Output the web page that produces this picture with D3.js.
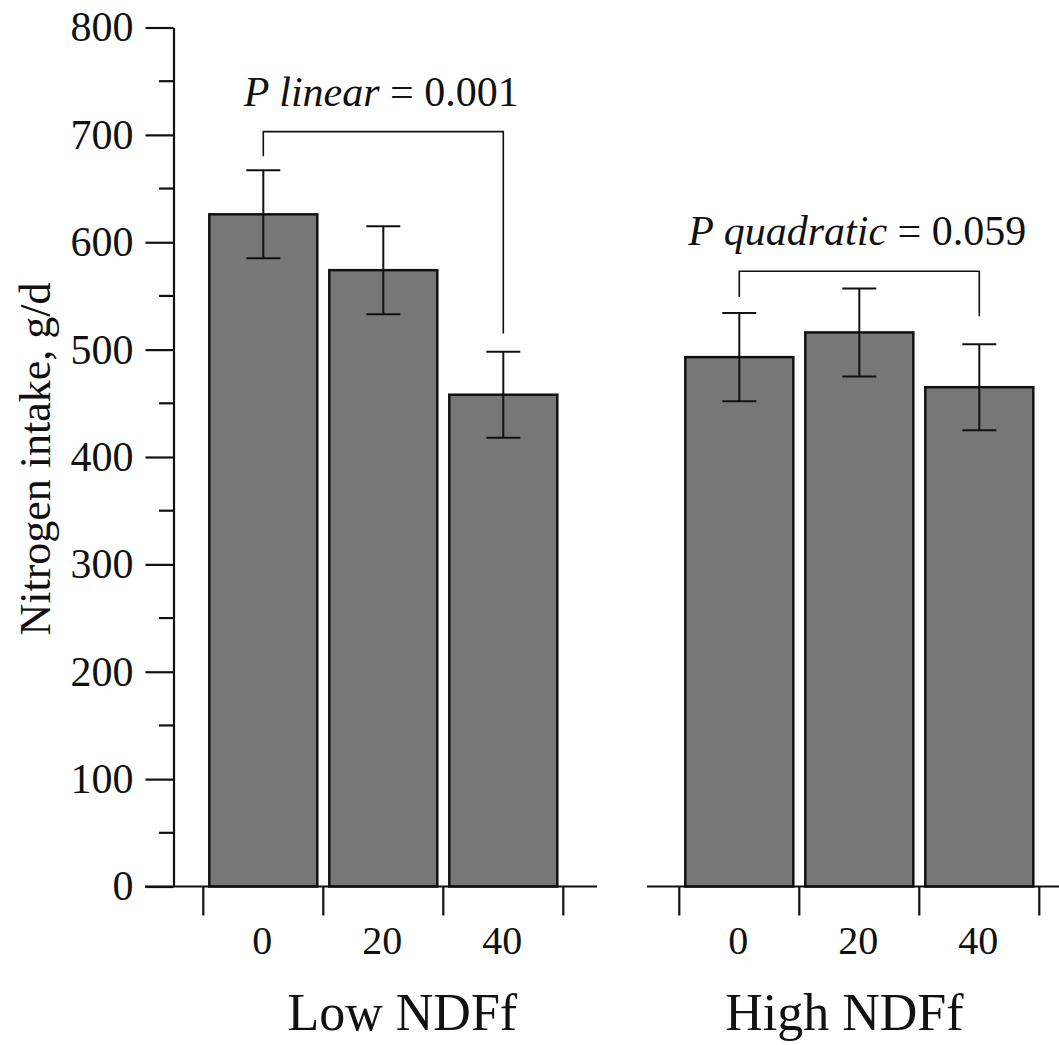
<!DOCTYPE html>
<html>
<head>
<meta charset="utf-8">
<script src="https://cdn.jsdelivr.net/npm/d3@7"></script>
<style>
  body { margin: 0; background: #fff; }
  text { font-family: "Liberation Serif", "Times New Roman", serif; fill: #111; }
</style>
</head>
<body>
<div id="chart"></div>
<script>
var categories = ["0", "20", "40"];
var groups = ["Low NDFf", "High NDFf"];
var lowMeans = [626, 574, 458];
var lowErr = [41, 41, 40];
var highMeans = [493, 516, 465];
var highErr = [41, 41, 40];
var yMajor = [0, 100, 200, 300, 400, 500, 600, 700, 800];
var yMinor = [50, 150, 250, 350, 450, 550, 650, 750];
// bracket: top value, left leg end, right leg end (data units)
var brackets = [
    { label: "P linear", p: "0.001", top: 703, ends: [680, 515] },
    { label: "P quadratic", p: "0.059", top: 573, ends: [549, 531] }
];

(function () {
    var width = 1059,
        height = 1045;

    var svg = d3.select("#chart")
        .append("svg")
        .attr("width", width)
        .attr("height", height);

    var y = d3.scaleLinear().domain([0, 800]).range([886.5, 27.5]);

    var x = d3.scaleBand()
        .domain(categories)
        .range([0, 360])
        .paddingInner(0.1)
        .paddingOuter(0.05);

    var panelX = [203.3, 679.3];
    var axisLines = [[145, 597], [647, 1059]];
    var groupLabelX = [199, 165];
    var series = [
        { means: lowMeans, err: lowErr },
        { means: highMeans, err: highErr }
    ];

    // y axis
    var yAxis = svg.append("g")
        .attr("transform", "translate(173.5,0)")
        .call(d3.axisLeft(y).tickValues(yMajor).tickSize(28).tickPadding(12).tickSizeOuter(0));
    yAxis.select(".domain").attr("stroke", "#111").attr("stroke-width", 2.2);
    yAxis.selectAll(".tick line").attr("stroke", "#111").attr("stroke-width", 2.2);
    yAxis.selectAll(".tick text")
        .style("font-family", "Liberation Serif")
        .style("font-size", "42px")
        .attr("fill", "#111");

    svg.append("g").selectAll("line")
        .data(yMinor)
        .enter().append("line")
        .attr("x1", 159).attr("x2", 173.5)
        .attr("y1", function (d) { return y(d); })
        .attr("y2", function (d) { return y(d); })
        .attr("stroke", "#111").attr("stroke-width", 2.2);

    svg.append("text")
        .attr("transform", "translate(50," + 459 + ") rotate(-90)")
        .attr("text-anchor", "middle")
        .style("font-size", "44px")
        .text("Nitrogen intake, g/d");

    series.forEach(function (s, gi) {
        var g = svg.append("g").attr("transform", "translate(" + panelX[gi] + ",0)");
        var rows = categories.map(function (c, i) {
            return { cat: c, mean: s.means[i], err: s.err[i] };
        });

        g.selectAll(".bar")
            .data(rows)
            .enter().append("rect")
            .attr("class", "bar")
            .attr("x", function (d) { return x(d.cat); })
            .attr("width", x.bandwidth())
            .attr("y", function (d) { return y(d.mean); })
            .attr("height", function (d) { return y(0) - y(d.mean); })
            .attr("fill", "#777777")
            .attr("stroke", "#111")
            .attr("stroke-width", 2.5);

        var eb = g.selectAll(".err")
            .data(rows)
            .enter().append("g")
            .attr("class", "err")
            .attr("stroke", "#111")
            .attr("stroke-width", 2);
        eb.append("line")
            .attr("x1", function (d) { return x(d.cat) + x.bandwidth() / 2; })
            .attr("x2", function (d) { return x(d.cat) + x.bandwidth() / 2; })
            .attr("y1", function (d) { return y(d.mean + d.err); })
            .attr("y2", function (d) { return y(d.mean - d.err); });
        [1, -1].forEach(function (sign) {
            eb.append("line")
                .attr("x1", function (d) { return x(d.cat) + x.bandwidth() / 2 - 17; })
                .attr("x2", function (d) { return x(d.cat) + x.bandwidth() / 2 + 17; })
                .attr("y1", function (d) { return y(d.mean + sign * d.err); })
                .attr("y2", function (d) { return y(d.mean + sign * d.err); });
        });

        // x axis line + boundary ticks
        svg.append("line")
            .attr("x1", axisLines[gi][0]).attr("x2", axisLines[gi][1])
            .attr("y1", y(0)).attr("y2", y(0))
            .attr("stroke", "#111").attr("stroke-width", 2.2);
        g.selectAll(".xtick")
            .data(d3.range(categories.length + 1))
            .enter().append("line")
            .attr("x1", function (i) { return i * x.step(); })
            .attr("x2", function (i) { return i * x.step(); })
            .attr("y1", y(0)).attr("y2", y(0) + 29)
            .attr("stroke", "#111").attr("stroke-width", 2.2);

        g.selectAll(".xlab")
            .data(categories)
            .enter().append("text")
            .attr("x", function (d) { return x(d) + x.bandwidth() / 2 - 1; })
            .attr("y", 954)
            .attr("text-anchor", "middle")
            .style("font-size", "40px")
            .text(function (d) { return d; });

        g.append("text")
            .attr("x", groupLabelX[gi])
            .attr("y", 1030)
            .attr("text-anchor", "middle")
            .style("font-size", "52px")
            .text(groups[gi]);

        // bracket
        var b = brackets[gi];
        var xl = x(categories[0]) + x.bandwidth() / 2,
            xr = x(categories[2]) + x.bandwidth() / 2;
        g.append("path")
            .attr("d", "M" + xl + "," + y(b.ends[0]) + "V" + y(b.top) + "H" + xr + "V" + y(b.ends[1]))
            .attr("fill", "none")
            .attr("stroke", "#111")
            .attr("stroke-width", 1.6);
        var t = g.append("text")
            .attr("x", (xl + xr) / 2 - 2)
            .attr("y", y(b.top) - 26)
            .attr("text-anchor", "middle")
            .style("font-size", "42px");
        t.append("tspan").style("font-style", "italic").text(b.label);
        t.append("tspan").text(" = " + b.p);
    });
})();
</script>
</body>
</html>
